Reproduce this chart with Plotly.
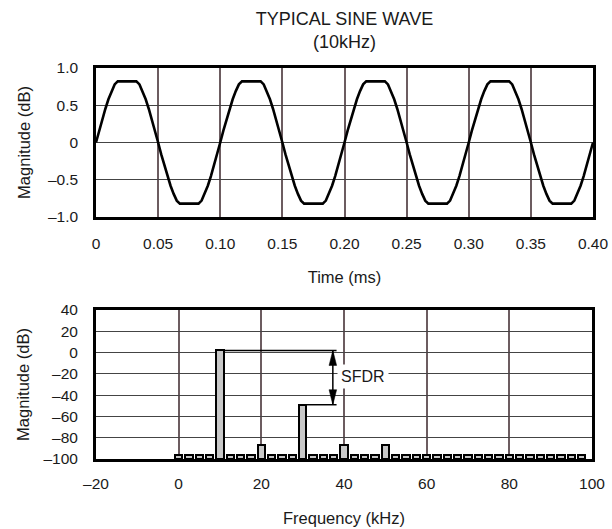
import plotly.graph_objects as go

# ---------------- data ----------------
time_ms = [i * 0.0025 for i in range(161)]
magnitude_wave = [
    0, 0.16, 0.31, 0.45, 0.58, 0.69, 0.78, 0.82, 0.82, 0.82,
    0.82, 0.82, 0.82, 0.82, 0.78, 0.69, 0.58, 0.45, 0.31, 0.16,
    0, -0.16, -0.31, -0.45, -0.58, -0.69, -0.78, -0.82, -0.82, -0.82,
    -0.82, -0.82, -0.82, -0.82, -0.78, -0.69, -0.58, -0.45, -0.31, -0.16,
    0, 0.16, 0.31, 0.45, 0.58, 0.69, 0.78, 0.82, 0.82, 0.82,
    0.82, 0.82, 0.82, 0.82, 0.78, 0.69, 0.58, 0.45, 0.31, 0.16,
    0, -0.16, -0.31, -0.45, -0.58, -0.69, -0.78, -0.82, -0.82, -0.82,
    -0.82, -0.82, -0.82, -0.82, -0.78, -0.69, -0.58, -0.45, -0.31, -0.16,
    0, 0.16, 0.31, 0.45, 0.58, 0.69, 0.78, 0.82, 0.82, 0.82,
    0.82, 0.82, 0.82, 0.82, 0.78, 0.69, 0.58, 0.45, 0.31, 0.16,
    0, -0.16, -0.31, -0.45, -0.58, -0.69, -0.78, -0.82, -0.82, -0.82,
    -0.82, -0.82, -0.82, -0.82, -0.78, -0.69, -0.58, -0.45, -0.31, -0.16,
    0, 0.16, 0.31, 0.45, 0.58, 0.69, 0.78, 0.82, 0.82, 0.82,
    0.82, 0.82, 0.82, 0.82, 0.78, 0.69, 0.58, 0.45, 0.31, 0.16,
    0, -0.16, -0.31, -0.45, -0.58, -0.69, -0.78, -0.82, -0.82, -0.82,
    -0.82, -0.82, -0.82, -0.82, -0.78, -0.69, -0.58, -0.45, -0.31, -0.16,
    0,
]

# Bottom panel: spectrum bins every 2.5 kHz
freq_khz = [i * 2.5 for i in range(40)]
magnitude_db = [
    -96, -96, -96, -96, 2, -96, -96, -96, -87, -96,
    -96, -96, -49, -96, -96, -96, -87, -96, -96, -96,
    -87, -96, -96, -96, -96, -96, -96, -96, -96, -96,
    -96, -96, -96, -96, -96, -96, -96, -96, -96, -96,
]
floor_db = -100

top_xticks = [0, 0.05, 0.10, 0.15, 0.20, 0.25, 0.30, 0.35, 0.40]
top_xlabels = ["0", "0.05", "0.10", "0.15", "0.20", "0.25", "0.30", "0.35", "0.40"]
top_yticks = [1.0, 0.5, 0, -0.5, -1.0]
top_ylabels = ["1.0", "0.5", "0", "\u20130.5", "\u20131.0"]
bot_xticks = [-20, 0, 20, 40, 60, 80, 100]
bot_xlabels = ["\u201320", "0", "20", "40", "60", "80", "100"]
bot_yticks = [40, 20, 0, -20, -40, -60, -80, -100]
bot_ylabels = ["40", "20", "0", "\u201320", "\u201340", "\u201360", "\u201380", "\u2013100"]

# ---------------- figure ----------------
FONT = "Liberation Sans, Arial, Helvetica, sans-serif"
TXT = "#1a1a1a"
fig = go.Figure()

fig.add_trace(go.Scatter(
    x=time_ms, y=magnitude_wave, mode="lines",
    line=dict(color="black", width=2.6), xaxis="x", yaxis="y", showlegend=False,
))

bar_w = 1.75
fig.add_trace(go.Bar(
    x=freq_khz, y=[v - floor_db for v in magnitude_db], base=floor_db,
    width=bar_w, marker=dict(color="#c8c8c8", line=dict(color="black", width=2)),
    xaxis="x2", yaxis="y2", showlegend=False,
))

# SFDR annotation derived from the data
fund_db = max(magnitude_db)
fund_f = freq_khz[magnitude_db.index(fund_db)]
others = [v for v in magnitude_db if v != fund_db]
spur_db = max(others)
spur_f = freq_khz[magnitude_db.index(spur_db)]
line_end = 38.2
arrow_x = 37.3

shapes = [
    dict(type="line", xref="x2", yref="y2", x0=fund_f + bar_w / 2, x1=line_end,
         y0=fund_db, y1=fund_db, line=dict(color="black", width=1.5)),
    dict(type="line", xref="x2", yref="y2", x0=spur_f + bar_w / 2, x1=line_end,
         y0=spur_db, y1=spur_db, line=dict(color="black", width=1.5)),
    dict(type="line", xref="x2", yref="y2", x0=arrow_x, x1=arrow_x,
         y0=spur_db, y1=fund_db, line=dict(color="black", width=1.5)),
    dict(type="path", xref="x2", yref="y2", xsizemode="pixel", ysizemode="pixel",
         xanchor=arrow_x, yanchor=fund_db, path="M-3.8,-15 L0,0 L3.8,-15 Z",
         fillcolor="black", line=dict(color="black", width=0.5)),
    dict(type="path", xref="x2", yref="y2", xsizemode="pixel", ysizemode="pixel",
         xanchor=arrow_x, yanchor=spur_db, path="M-3.8,15 L0,0 L3.8,15 Z",
         fillcolor="black", line=dict(color="black", width=0.5)),
]

annotations = [
    dict(text="SFDR", x=44.5, y=-22.5, xref="x2", yref="y2", showarrow=False,
         bgcolor="white", borderpad=3, font=dict(family=FONT, size=16, color=TXT)),
]

axis_common = dict(
    showline=True, mirror=True, linecolor="black", ticks="",
    showgrid=True, zeroline=False, automargin=False,
    tickfont=dict(family=FONT, size=15.5, color=TXT),
)
vgrid = "#6c5c60"
hgrid = "#444444"

fig.update_layout(
    width=612, height=529,
    margin=dict(l=96, r=19, t=68, b=70),
    paper_bgcolor="white", plot_bgcolor="white",
    title=dict(text="TYPICAL SINE WAVE<br>(10kHz)", x=344.5 / 612, xanchor="center",
               y=1 - 25 / 529, yanchor="middle", yref="container",
               font=dict(family=FONT, size=18, color=TXT)),
    xaxis=dict(axis_common, domain=[0, 1], anchor="y", range=[0, 0.4],
               tickvals=top_xticks, ticktext=top_xlabels, linewidth=2.5,
               gridcolor=vgrid, gridwidth=1.5, ticklabelstandoff=11,
               title=dict(text="Time (ms)", standoff=21,
                          font=dict(family=FONT, size=16.5, color=TXT))),
    yaxis=dict(axis_common, domain=[0.6189, 1], anchor="x", range=[-1, 1],
               tickvals=top_yticks, ticktext=top_ylabels, linewidth=2.5,
               gridcolor=hgrid, gridwidth=1.3, ticklabelstandoff=12,
               title=dict(text="Magnitude (dB)", standoff=14,
                          font=dict(family=FONT, size=16.5, color=TXT))),
    xaxis2=dict(axis_common, domain=[0, 0.998], anchor="y2", range=[-20, 100],
                tickvals=bot_xticks, ticktext=bot_xlabels, linewidth=3,
                gridcolor=vgrid, gridwidth=1.5, ticklabelstandoff=8,
                title=dict(text="Frequency (kHz)", standoff=22,
                           font=dict(family=FONT, size=16.5, color=TXT))),
    yaxis2=dict(axis_common, domain=[0, 0.3811], anchor="x2", range=[-100, 40],
                tickvals=bot_yticks, ticktext=bot_ylabels, linewidth=3,
                gridcolor=hgrid, gridwidth=1.3, ticklabelstandoff=12,
                title=dict(text="Magnitude (dB)", standoff=10,
                           font=dict(family=FONT, size=16.5, color=TXT))),
    shapes=shapes,
    annotations=annotations,
    bargap=0,
)

fig.write_html("out.html", config={"displayModeBar": False},
               post_script="document.body.style.margin='0px';")
